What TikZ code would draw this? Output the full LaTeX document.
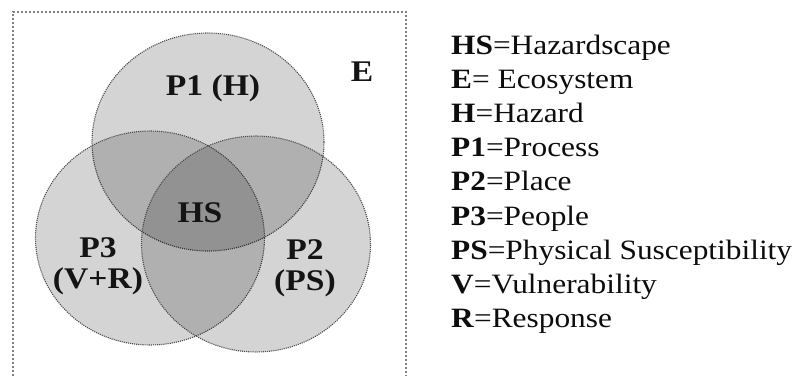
\documentclass[tikz,border=0pt]{standalone}
\usepackage{fontspec}
\setmainfont{Liberation Serif}[FakeStretch=1.12]
\usetikzlibrary{shapes.geometric}
\begin{document}
\begin{tikzpicture}[x=1pt,y=-1pt,
  venn/.style={ellipse, inner sep=0pt, fill=black, fill opacity=0.17,
    draw=black!70, draw opacity=1, densely dotted, line width=1.1pt},
  lbl/.style={font=\fontsize{30}{31}\selectfont\bfseries, text=black!92, align=center, inner sep=0pt},
  key/.style={anchor=base west, inner sep=0pt, text=black!95,
    font=\fontsize{28}{30}\selectfont}]
\useasboundingbox (0,0) rectangle (792,375);

% ecosystem frame, open at the bottom
\coordinate (fbl) at (13,380);
\coordinate (ftl) at (13,12);
\coordinate (ftr) at (406,12);
\coordinate (fbr) at (406,380);
\draw[black!50, dotted, line width=2pt] (fbl) -- (ftl) -- (ftr) -- (fbr);

% the three overlapping sets
\node[venn, minimum width=232pt, minimum height=218pt] (p1) at (208,142) {};
\node[venn, minimum width=229pt, minimum height=214pt] (p3) at (150,238) {};
\node[venn, minimum width=229pt, minimum height=216pt] (p2) at (256,244) {};

% labels inside the diagram
\node[lbl] (lp1) at (213,88) {P1 (H)};
\node[lbl] (le) at (362,72) {E};
\node[lbl] (lhs) at (200,213) {HS};
\node[lbl] (lp3) at (98,266) {P3\\(V+R)};
\node[lbl] (lp2) at (305,268) {P2\\(PS)};

% legend
\node[key] (k1) at (451,54) {\textbf{HS}=Hazardscape};
\node[key] (k2) at (451,88) {\textbf{E}= Ecosystem};
\node[key] (k3) at (451,122) {\textbf{H}=Hazard};
\node[key] (k4) at (451,156) {\textbf{P1}=Process};
\node[key] (k5) at (451,190) {\textbf{P2}=Place};
\node[key] (k6) at (451,225) {\textbf{P3}=People};
\node[key] (k7) at (451,259) {\textbf{PS}=Physical Susceptibility};
\node[key] (k8) at (451,293) {\textbf{V}=Vulnerability};
\node[key] (k9) at (451,327) {\textbf{R}=Response};
\end{tikzpicture}
\end{document}
